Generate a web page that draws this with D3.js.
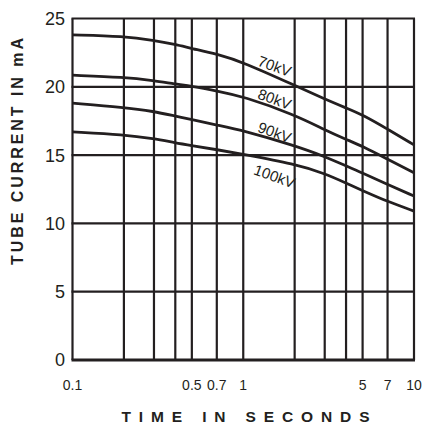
<!DOCTYPE html>
<html>
<head>
<meta charset="utf-8">
<script src="https://cdn.jsdelivr.net/npm/d3@7"></script>
<style>
  body { margin: 0; background: #fff; }
  svg { display: block; font-family: "Liberation Sans", Arial, sans-serif; }
</style>
</head>
<body>
<div id="chart"></div>
<script>
// time points (s) on the log axis
var times = [0.1, 0.2, 0.3, 0.4, 0.5, 0.7, 1, 2, 3, 4, 5, 7, 10];

// tube current (mA) for each kV setting
var kv70  = [23.8, 23.7, 23.4, 23.1, 22.8, 22.4, 21.8, 20.1, 19.1, 18.45, 17.95, 16.9, 15.75];
var kv80  = [20.85, 20.7, 20.45, 20.2, 20.05, 19.7, 19.3, 17.95, 16.85, 16.15, 15.65, 14.7, 13.7];
var kv90  = [18.8, 18.5, 18.2, 17.85, 17.6, 17.2, 16.8, 15.7, 14.9, 14.2, 13.7, 12.85, 12.0];
var kv100 = [16.7, 16.5, 16.2, 15.9, 15.7, 15.4, 15.05, 14.35, 13.65, 12.95, 12.4, 11.6, 10.9];

var seriesNames = ['70kV', '80kV', '90kV', '100kV'];

var xGrid = [0.1, 0.2, 0.3, 0.4, 0.5, 0.7, 1, 2, 3, 4, 5, 7, 10];
var xTickLabels = [0.1, 0.5, 0.7, 1, 5, 7, 10];
var yTicks = [0, 5, 10, 15, 20, 25];

(function(){
    var series = [kv70, kv80, kv90, kv100].map(function(vals, i){
        return { key: seriesNames[i], values: vals.map(function(v, j){ return { t: times[j], v: v }; }) };
    });

    var W = 427, H = 429;
    var mLeft = 72.5, mRight = 414, mTop = 18.5, mBottom = 360;
    var ink = '#231f20';

    var x = d3.scaleLog().domain([0.1, 10]).range([mLeft, mRight]);
    var y = d3.scaleLinear().domain([0, 25]).range([mBottom, mTop]);

    var svg = d3.select('#chart').append('svg')
        .attr('width', W)
        .attr('height', H);

    // grid
    svg.append('g').selectAll('line.vgrid')
        .data(xGrid)
        .enter().append('line')
        .attr('class', 'vgrid')
        .attr('x1', function(d){ return x(d); })
        .attr('x2', function(d){ return x(d); })
        .attr('y1', mTop)
        .attr('y2', mBottom)
        .attr('stroke', ink)
        .attr('stroke-width', 2.2);

    svg.append('g').selectAll('line.hgrid')
        .data(yTicks)
        .enter().append('line')
        .attr('class', 'hgrid')
        .attr('x1', mLeft - 1)
        .attr('x2', mRight + 1)
        .attr('y1', function(d){ return y(d); })
        .attr('y2', function(d){ return y(d); })
        .attr('stroke', ink)
        .attr('stroke-width', function(d){ return d === 0 ? 2.8 : 2.2; });

    // y tick labels
    svg.append('g').selectAll('text')
        .data(yTicks)
        .enter().append('text')
        .attr('x', 65)
        .attr('y', function(d){ return y(d); })
        .attr('dy', '0.36em')
        .attr('text-anchor', 'end')
        .attr('font-size', 18)
        .attr('fill', ink)
        .text(function(d){ return d; });

    // x tick labels
    svg.append('g').selectAll('text')
        .data(xTickLabels)
        .enter().append('text')
        .attr('x', function(d){ return x(d); })
        .attr('y', 390)
        .attr('text-anchor', 'middle')
        .attr('font-size', 14)
        .attr('fill', ink)
        .text(function(d){ return d; });

    // curves (basis smooths out the reading noise)
    var line = d3.line()
        .x(function(d){ return x(d.t); })
        .y(function(d){ return y(d.v); })
        .curve(d3.curveBasis);

    svg.append('g').selectAll('path')
        .data(series)
        .enter().append('path')
        .attr('d', function(d){ return line(d.values); })
        .attr('fill', 'none')
        .attr('stroke', ink)
        .attr('stroke-width', 2.8);

    // curve labels, sitting on the curve near t = 1.2
    var labelT = 1.2;
    svg.append('g').selectAll('text')
        .data(series)
        .enter().append('text')
        .attr('transform', function(d, i){
            var vi = d3.scaleLog().domain([1, 2]).range([d.values[6].v, d.values[7].v]);
            var px = x(labelT) + (i === 3 ? -4 : 0);
            var py = y(vi(labelT)) + (i === 3 ? 17 : -3);
            return 'translate(' + px + ',' + py + ') rotate(20)';
        })
        .attr('font-size', 15)
        .attr('fill', ink)
        .text(function(d){ return d.key; });

    // axis titles
    svg.append('text')
        .attr('x', 121.5)
        .attr('y', 422)
        .attr('font-size', 15.5)
        .attr('font-weight', 'bold')
        .attr('fill', ink)
        .attr('textLength', 248)
        .attr('lengthAdjust', 'spacing')
        .text('TIME IN SECONDS');

    svg.append('text')
        .attr('transform', 'translate(22.5,265) rotate(-90)')
        .attr('font-size', 16)
        .attr('font-weight', 'bold')
        .attr('fill', ink)
        .attr('textLength', 227)
        .attr('lengthAdjust', 'spacing')
        .text('TUBE CURRENT IN mA');
})();
</script>
</body>
</html>
